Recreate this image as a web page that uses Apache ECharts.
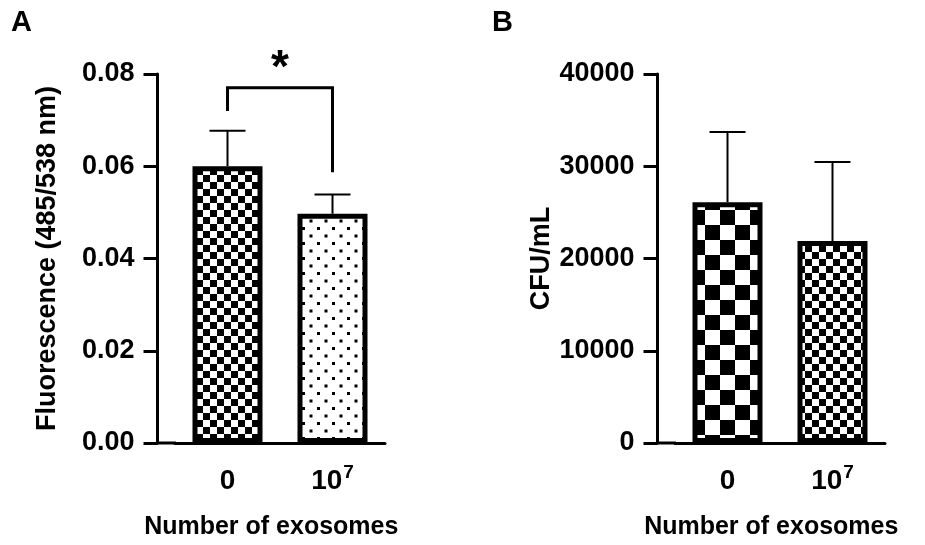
<!DOCTYPE html>
<html>
<head>
<meta charset="utf-8">
<script src="https://cdn.jsdelivr.net/npm/echarts@6/dist/echarts.min.js"></script>
<style>
html,body{margin:0;padding:0;background:#fff;}
#chart{width:925px;height:545px;}
</style>
</head>
<body>
<div id="chart"></div>
<script>
// ---- data ----
const categories = ['0', '10^7'];
const fluorMean = [0.0600, 0.0497];
const fluorErr = [0.0077, 0.0042];
const cfuMean = [26100, 21900];
const cfuErr = [7600, 8550];
const fluorAxis = [0, 0.08, 0.02];     // min, max, interval
const cfuAxis = [0, 40000, 10000];
const fluorTitle = 'Fluorescence (485/538 nm)';
const cfuTitle = 'CFU/mL';
const xTitle = 'Number of exosomes';
const panelLetters = ['A', 'B'];
const sigPair = [0, 1];
const sigBracket = [0.0770, 0.0720, 0.0587]; // top, left leg end, right leg end
const sigLabel = '*';
const sigLabelY = 0.0810;

// ---- patterns ----
function checker(cell) {
  const c = document.createElement('canvas');
  c.width = cell * 2; c.height = cell * 2;
  const g = c.getContext('2d');
  g.fillStyle = '#fff'; g.fillRect(0, 0, c.width, c.height);
  g.fillStyle = '#000';
  g.fillRect(0, 0, cell, cell);
  g.fillRect(cell, cell, cell, cell);
  return c;
}
function dots() {
  const c = document.createElement('canvas');
  c.width = 15; c.height = 15;
  const g = c.getContext('2d');
  g.fillStyle = '#fff'; g.fillRect(0, 0, 15, 15);
  g.fillStyle = '#000';
  g.fillRect(2, 2, 3, 3);
  g.fillRect(9.5, 9.5, 3, 3);
  return c;
}
const patA = [checker(7), dots()];
const patB = [checker(15), checker(7)];

const FONT = 'Liberation Sans';
const OFFSET = 17.5;

function catLabel(v) {
  const m = /^(\d+)\^(\d+)$/.exec(v);
  if (m) return '{n|' + m[1] + '}{s|' + m[2] + '}';
  return '{n|' + v + '}';
}

function errRender(params, api) {
  const x = api.value(0), m = api.value(1), e = api.value(2);
  const p0 = api.coord([x, m]);
  const p1 = api.coord([x, m + e]);
  const hw = 18;
  return {
    type: 'group',
    children: [
      {type: 'line', shape: {x1: p0[0], y1: p0[1], x2: p1[0], y2: p1[1]}, style: {stroke: '#000', lineWidth: 2}},
      {type: 'line', shape: {x1: p1[0] - hw, y1: p1[1], x2: p1[0] + hw, y2: p1[1]}, style: {stroke: '#000', lineWidth: 2}}
    ]
  };
}
function stubRender(params, api) {
  const cs = params.coordSys;
  const y = cs.y + cs.height;
  return {type: 'line', shape: {x1: cs.x - OFFSET - 1.5, y1: y, x2: cs.x + 1, y2: y}, style: {stroke: '#000', lineWidth: 3}};
}
function sigRender(params, api) {
  const a = api.value(0), b = api.value(1);
  const top = api.value(2), l = api.value(3), r = api.value(4), ly = api.value(5);
  const pl = api.coord([a, l]), plt = api.coord([a, top]);
  const pr = api.coord([b, r]), prt = api.coord([b, top]);
  const mid = (pl[0] + pr[0]) / 2;
  const ty = api.coord([a, ly])[1];
  return {
    type: 'group',
    children: [
      {type: 'polyline', shape: {points: [pl, plt, prt, pr]}, style: {stroke: '#000', lineWidth: 3, fill: null}},
      {type: 'text', x: mid, y: ty, style: {text: sigLabel, font: 'bold 46px "' + FONT + '"', fill: '#000', align: 'center', verticalAlign: 'middle'}}
    ]
  };
}

function xAxisCfg(idx) {
  return {
    type: 'category', gridIndex: idx, data: categories,
    axisLine: {lineStyle: {color: '#000', width: 3}},
    axisTick: {alignWithLabel: true, length: 15, lineStyle: {color: '#000', width: 3}},
    axisLabel: {
      margin: 24, formatter: catLabel,
      rich: {
        n: {fontFamily: FONT, fontWeight: 'bold', fontSize: 28, color: '#000', lineHeight: 28, verticalAlign: 'bottom'},
        s: {fontFamily: FONT, fontWeight: 'bold', fontSize: 19, color: '#000', lineHeight: 19, verticalAlign: 'bottom', padding: [0, 0, 13, 1]}
      }
    },
    name: xTitle, nameLocation: 'middle', nameGap: 72,
    nameTextStyle: {fontFamily: FONT, fontWeight: 'bold', fontSize: 25, color: '#000', padding: [0, OFFSET, 0, 0]}
  };
}
function yAxisCfg(idx, ax, title, gap, dec) {
  return {
    type: 'value', gridIndex: idx, min: ax[0], max: ax[1], interval: ax[2], offset: OFFSET,
    axisLine: {show: true, lineStyle: {color: '#000', width: 3}},
    axisTick: {show: true, length: 14, lineStyle: {color: '#000', width: 3}},
    splitLine: {show: false},
    axisLabel: {margin: 23, fontFamily: FONT, fontWeight: 'bold', fontSize: 27, color: '#000',
      formatter: v => dec ? v.toFixed(dec) : String(v)},
    name: title, nameLocation: 'middle', nameGap: gap, nameRotate: 90,
    nameTextStyle: {fontFamily: FONT, fontWeight: 'bold', fontSize: 27, color: '#000'}
  };
}
function barSeries(idx, vals, pats) {
  return {
    type: 'bar', xAxisIndex: idx, yAxisIndex: idx, barWidth: 70, z: 2,
    data: vals.map((v, i) => ({value: v, itemStyle: {color: {image: pats[i], repeat: 'repeat'}}})),
    itemStyle: {borderColor: '#000', borderWidth: 5},
    emphasis: {disabled: true}, animation: false
  };
}
function errSeries(idx, means, errs) {
  return {
    type: 'custom', xAxisIndex: idx, yAxisIndex: idx, z: 1, renderItem: errRender,
    encode: {x: 0, y: 1},
    data: means.map((m, i) => [i, m, errs[i]]), animation: false, silent: true
  };
}
function stubSeries(idx) {
  return {type: 'custom', xAxisIndex: idx, yAxisIndex: idx, z: 5, renderItem: stubRender,
    data: [[0, 0]], animation: false, silent: true};
}

const option = {
  backgroundColor: '#fff',
  animation: false,
  title: [
    {text: panelLetters[0], left: 11, top: 8, padding: 0, textStyle: {fontFamily: FONT, fontWeight: 'bold', fontSize: 29, color: '#000'}},
    {text: panelLetters[1], left: 492, top: 8, padding: 0, textStyle: {fontFamily: FONT, fontWeight: 'bold', fontSize: 29, color: '#000'}}
  ],
  grid: [
    {left: 175, width: 210, top: 74, height: 371},
    {left: 675, width: 210, top: 74, height: 371}
  ],
  xAxis: [xAxisCfg(0), xAxisCfg(1)],
  yAxis: [yAxisCfg(0, fluorAxis, fluorTitle, 96, 2), yAxisCfg(1, cfuAxis, cfuTitle, 98, 0)],
  series: [
    errSeries(0, fluorMean, fluorErr),
    barSeries(0, fluorMean, patA),
    stubSeries(0),
    {
      type: 'custom', xAxisIndex: 0, yAxisIndex: 0, z: 4, renderItem: sigRender, clip: false,
      data: [[sigPair[0], sigPair[1], sigBracket[0], sigBracket[1], sigBracket[2], sigLabelY]],
      encode: {x: [0, 1], y: [2]}, animation: false, silent: true
    },
    errSeries(1, cfuMean, cfuErr),
    barSeries(1, cfuMean, patB),
    stubSeries(1)
  ]
};
const chart = echarts.init(document.getElementById('chart'), null, {renderer: 'canvas'});
chart.setOption(option);
</script>
</body>
</html>
